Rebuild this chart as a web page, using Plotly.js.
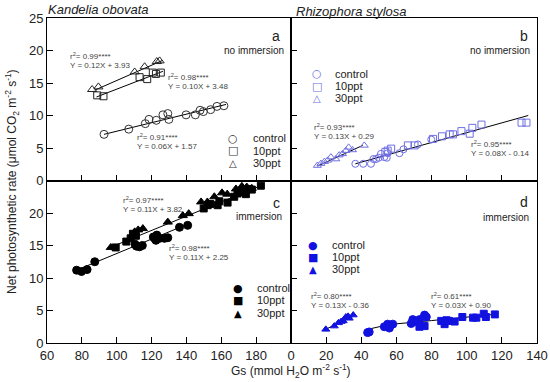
<!DOCTYPE html>
<html><head><meta charset="utf-8">
<script src="https://cdn.plot.ly/plotly-3.0.1.min.js"></script>
<style>html,body{margin:0;padding:0;background:#fff}#chart{width:550px;height:382px}</style>
</head><body><div id="chart"></div>
<script>
// ---- Panel a: Kandelia obovata, no immersion ----
const aCtrlX = [92.7,106.9,116.4,118.5,122.7,126.5,129.3,129.9,139.8,145.1,147.8,149.7,153.9,157.5,161.5];
const aCtrlY = [7.1,7.9,8.75,9.4,9.26,10.1,10.3,9.4,10.1,10.1,10.8,10.6,10.9,11.4,11.5];
const a10X = [88.8,92.4,113.1,117.5,120.7,125.3,122.5];
const a10Y = [13.1,12.96,15.9,15.6,16.6,16.6,16.4];
const a30X = [85.9,89.5,110.3,116.0,123.0,124.6];
const a30Y = [14.0,14.4,16.7,17.5,18.3,18.4];
const aFitCtrlX = [92.7,162.7], aFitCtrlY = [7.1,11.7];
const aFit10X = [88.4,126.5],  aFit10Y = [12.85,16.8];
const aFit30X = [87.4,126.5],  aFit30Y = [13.9,18.5];

// ---- Panel b: Rhizophora stylosa, no immersion ----
const bCtrlX = [36.6,41.1,45.5,46.9,49.9,54.5,55.0,61.7,64.0,72.2,79.8,51.2,53.1,48.4];
const bCtrlY = [2.57,2.57,2.57,3.3,3.5,3.5,4.2,4.2,4.8,5.55,6.3,4.1,3.6,3.3];
const b10X = [53.7,55.0,66.5,70.3,80.8,85.9,90.3,92.2,97.0,101.7,103.2,108.4,131.2,134.0,57.0];
const b10Y = [4.4,4.6,5.4,5.4,6.4,6.8,7.1,7.1,7.6,7.2,8.1,8.6,8.9,8.9,4.9];
const b30X = [15.0,17.0,19.0,20.8,22.7,25.5,27.4,29.3,31.2,32.8,35.0,41.7];
const b30Y = [2.3,2.6,2.9,3.1,3.6,3.3,3.9,4.1,4.6,5.1,4.7,5.4];
const bFit30X = [15.0,40.8], bFit30Y = [2.2,5.4];
const bFitX = [36.6,135.0],  bFitY = [2.57,10.0];

// ---- Panel c: Kandelia obovata, immersion ----
const cCtrlX = [77.0,79.8,83.0,87.4,111.3,113.1,114.7,121.7,123.0,124.6,127.4,129.3,136.0,140.7,121.0,122.5,110.5];
const cCtrlY = [11.2,11.0,11.3,12.5,14.9,14.8,15.0,16.1,16.6,16.1,16.1,16.2,17.8,18.1,16.3,15.8,15.2];
const c10X = [99.4,105.5,108.0,109.3,111.0,149.9,152.2,153.7,157.9,158.9,163.6,167.4,169.3,171.8,174.1,175.6,177.5,182.7];
const c10Y = [14.7,15.6,16.1,16.8,16.5,20.7,21.2,21.4,21.2,21.8,21.6,22.5,23.0,23.2,22.9,23.7,23.6,24.2];
const c30X = [96.6,110.3,112.3,115.0,129.3,137.9,141.3,148.4,152.0,156.0,160.4,163.4,168.4,171.8,174.6,177.5];
const c30Y = [14.7,17.1,17.4,17.6,18.6,19.6,19.9,21.7,21.7,22.5,23.1,22.9,23.7,24.1,24.0,23.8];
const cFitUpX = [98.9,182.7], cFitUpY = [15.0,24.2];
const cFitLoX = [76.0,141.7], cFitLoY = [11.1,18.4];

// ---- Panel d: Rhizophora stylosa, immersion ----
const dCtrlX = [43.6,44.5,53.1,55.0,56.0,57.9,68.4,69.3,73.1,76.0,77.0,71.4];
const dCtrlY = [1.6,1.7,2.5,2.9,2.3,2.9,3.0,3.6,3.6,4.3,4.0,3.3];
const d10X = [73.1,76.0,85.5,87.4,89.9,93.1,97.5,103.6,105.5,109.7,110.9,116.0,88.5];
const d10Y = [2.5,2.6,3.4,2.9,3.4,3.3,4.0,3.9,3.9,4.5,4.0,4.4,3.5];
const d30X = [19.8,24.6,27.0,29.7,31.2,33.1,35.4,28.5,32.5];
const d30Y = [2.1,2.6,3.1,3.4,4.0,3.8,4.3,3.3,4.1];
const dFit30X = [19.8,35.9], dFit30Y = [2.1,4.3];
const dFitX = [43.6,56.0,80.0,116.0], dFitY = [2.1,2.85,3.45,4.4];

// ---- Text ----
const legendNames = ['control','10ppt','30ppt'];
const eqA = [['r<sup>2</sup>= 0.99****','Y = 0.12X + 3.93'],['r<sup>2</sup>= 0.98****','Y = 0.10X + 3.48'],['r<sup>2</sup>= 0.91****','Y = 0.06X + 1.57']];
const eqB = [['r<sup>2</sup>= 0.93****','Y = 0.13X + 0.29'],['r<sup>2</sup>= 0.95****','Y = 0.08X - 0.14']];
const eqC = [['r<sup>2</sup>= 0.97****','Y = 0.11X + 3.82'],['r<sup>2</sup>= 0.98****','Y = 0.11X + 2.25']];
const eqD = [['r<sup>2</sup>= 0.80****','Y = 0.13X - 0.36'],['r<sup>2</sup>= 0.61****','Y = 0.03X + 0.90']];

const LAV = '#6f6fe3', BLU = '#1212e0';
function pts(x,y,xa,ya,sym,color,size){
  return {x:x,y:y,xaxis:xa,yaxis:ya,type:'scatter',mode:'markers',showlegend:false,hoverinfo:'skip',
    marker:{symbol:sym,size:size||8,color:color,line:{color:color,width:1}}};
}
function fit(x,y,xa,ya){
  return {x:x,y:y,xaxis:xa,yaxis:ya,type:'scatter',mode:'lines',showlegend:false,hoverinfo:'skip',line:{color:'#000',width:1}};
}
const data = [
  fit(aFitCtrlX,aFitCtrlY,'x','y'),fit(aFit10X,aFit10Y,'x','y'),fit(aFit30X,aFit30Y,'x','y'),
  pts(aCtrlX,aCtrlY,'x','y','circle-open','#333',8),pts(a10X,a10Y,'x','y','square-open','#222',7),pts(a30X,a30Y,'x','y','triangle-up-open','#222',8),
  fit(bFit30X,bFit30Y,'x2','y2'),fit(bFitX,bFitY,'x2','y2'),
  pts(bCtrlX,bCtrlY,'x2','y2','circle-open',LAV,7),pts(b10X,b10Y,'x2','y2','square-open',LAV,7),pts(b30X,b30Y,'x2','y2','triangle-up-open',LAV,7),
  fit(cFitUpX,cFitUpY,'x3','y3'),fit(cFitLoX,cFitLoY,'x3','y3'),
  pts(cCtrlX,cCtrlY,'x3','y3','circle','#000',8),pts(c10X,c10Y,'x3','y3','square','#000',7),pts(c30X,c30Y,'x3','y3','triangle-up','#000',8),
  fit(dFit30X,dFit30Y,'x4','y4'),fit(dFitX,dFitY,'x4','y4'),
  pts(dCtrlX,dCtrlY,'x4','y4','circle',BLU,8),pts(d10X,d10Y,'x4','y4','square',BLU,7),pts(d30X,d30Y,'x4','y4','triangle-up',BLU,7)
];

// pixel -> paper helpers (plot area 47..537 x 18..343)
const L=47,R=537,T=18,B=343;
const px = v => (v-L)/(R-L), py = v => (B-v)/(B-T);
const ann = [];
function txt(t,x,y,opt){ann.push(Object.assign({text:t,x:px(x),y:py(y),xref:'paper',yref:'paper',showarrow:false,xanchor:'left',yanchor:'middle',font:{family:'Liberation Sans, Arial, sans-serif',size:8,color:'#444'}},opt||{}));}
// species titles
txt('<i>Kandelia obovata</i>',46,10,{font:{family:'Liberation Sans, Arial',size:13,color:'#222'}});
txt('<i>Rhizophora stylosa</i>',294,11,{font:{family:'Liberation Sans, Arial',size:13,color:'#222'}});
// panel letters
const big = {family:'Liberation Sans, Arial',size:14,color:'#222'}, mid={family:'Liberation Sans, Arial',size:10,color:'#222'};
txt('a',282,36,{xanchor:'right',font:big}); txt('no immersion',286,50,{xanchor:'right',font:mid});
txt('b',530,36,{xanchor:'right',font:big}); txt('no immersion',532,50,{xanchor:'right',font:mid});
txt('c',282,203,{xanchor:'right',font:big}); txt('immersion',284,216,{xanchor:'right',font:mid});
txt('d',530,202,{xanchor:'right',font:big}); txt('immersion',531,217,{xanchor:'right',font:mid});
// equations
function eq(pair,x,y){txt(pair[0],x,y);txt(pair[1],x,y+9.5);}
eq(eqA[0],68,56); eq(eqA[1],166,77); eq(eqA[2],135,137);
eq(eqB[0],312,127); eq(eqB[1],469,144);
eq(eqC[0],121,200); eq(eqC[1],167,248);
eq(eqD[0],309,296); eq(eqD[1],429,296);
// legends
const lf = {family:'Liberation Sans, Arial',size:11,color:'#222'};
function leg(syms,color,sx,tx,rows){
  for(let i=0;i<3;i++){
    txt(syms[i],sx,rows[i],{xanchor:'center',font:{family:'DejaVu Sans',size:i==2?10:11,color:color}});
    txt(legendNames[i],tx,rows[i],{font:lf});
  }
}
leg(['○','□','△'],'#333',233,251,[138,151,163]);
leg(['○','□','△'],LAV,317,333,[74,86,98]);
leg(['●','■','▲'],'#000',238,255,[288,300,313]);
leg(['●','■','▲'],BLU,313,330,[245,257,269]);
// axis titles
ann.push({text:'Net photosynthetic rate (μmol CO<sub>2</sub> m<sup>-2</sup> s<sup>-1</sup>)',xref:'paper',yref:'paper',x:px(12),y:py(182),textangle:-90,showarrow:false,xanchor:'center',yanchor:'middle',font:{family:'Liberation Sans, Arial',size:12,color:'#222'}});
ann.push({text:'Gs (mmol H<sub>2</sub>O m<sup>-2</sup> s<sup>-1</sup>)',xref:'paper',yref:'paper',x:px(291),y:py(371),showarrow:false,xanchor:'center',yanchor:'middle',font:{family:'Liberation Sans, Arial',size:12,color:'#222'}});

const tickFont = {family:'Liberation Sans, Arial',size:13,color:'#222'};
const base = {showline:true,mirror:true,linecolor:'#000',linewidth:1,ticks:'inside',ticklen:6,tickcolor:'#000',showgrid:false,zeroline:false,tickfont:tickFont,fixedrange:true};
const xL = [60,80,100,120,140,160,180];
const xR = [0,20,40,60,80,100,120,140];
const yT = [0,5,10,15,20,25], yB=[0,5,10,15,20];
const d1=0.498;
const layout = {
  width:550,height:382,margin:{l:L,r:550-R,t:T,b:382-B},paper_bgcolor:'#fff',plot_bgcolor:'#fff',showlegend:false,
  xaxis: Object.assign({},base,{domain:[0,d1],range:[60,200],tickvals:xL,showticklabels:false,anchor:'y'}),
  yaxis: Object.assign({},base,{domain:[0.5,1],range:[0,25],tickvals:yT,anchor:'x'}),
  xaxis2:Object.assign({},base,{domain:[d1,1],range:[0,140],tickvals:xR,showticklabels:false,anchor:'y2'}),
  yaxis2:Object.assign({},base,{domain:[0.5,1],range:[0,25],tickvals:yT,showticklabels:false,anchor:'x2'}),
  xaxis3:Object.assign({},base,{domain:[0,d1],range:[60,200],tickvals:xL,anchor:'y3'}),
  yaxis3:Object.assign({},base,{domain:[0,0.5],range:[0,25],tickvals:yB,anchor:'x3'}),
  xaxis4:Object.assign({},base,{domain:[d1,1],range:[0,140],tickvals:xR,anchor:'y4'}),
  yaxis4:Object.assign({},base,{domain:[0,0.5],range:[0,25],tickvals:yB,showticklabels:false,anchor:'x4'}),
  annotations:ann
};
Plotly.newPlot('chart',data,layout,{staticPlot:true,displayModeBar:false});
</script></body></html>
